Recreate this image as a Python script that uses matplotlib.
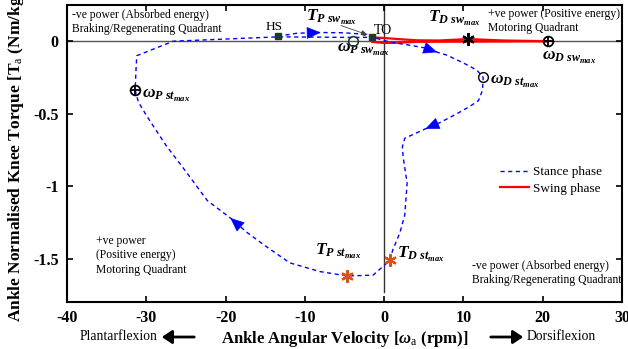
import matplotlib
matplotlib.use('Agg')
import matplotlib.pyplot as plt

plt.rcParams['font.family'] = ['Liberation Serif', 'DejaVu Serif']
plt.rcParams['mathtext.fontset'] = 'custom'
plt.rcParams['mathtext.rm'] = 'Liberation Serif'
plt.rcParams['mathtext.it'] = 'Liberation Serif:italic:bold'
plt.rcParams['mathtext.bf'] = 'Liberation Serif:bold'

# stance phase loop (angular velocity rpm, normalised torque Nm/kg)
stance_w = [-13.4, -11.0, -8.0, -5.0, -3.0, -2.0, 0.8, 3.3, 5.0, 6.7, 7.9, 10.0, 11.7, 12.5,
            12.4, 11.9, 10.8, 9.2, 7.1, 5.2, 4.2, 2.6, 2.3, 2.4, 2.9, 2.6, 2.0, 1.1, 0.7,
            -0.25, -1.4, -4.7, -8.1, -11.9, -14.8, -17.3, -19.4, -22.3, -25.0, -27.5, -29.9,
            -31.0, -31.4, -31.3, -31.2, -26.6, -20.0, -13.4, -8.0, -4.0, -1.5]
stance_T = [0.034, 0.055, 0.060, 0.058, 0.050, 0.035, -0.007, -0.028, -0.045, -0.076, -0.096,
            -0.15, -0.20, -0.25, -0.34, -0.41, -0.45, -0.50, -0.56, -0.605, -0.63, -0.67, -0.73,
            -0.80, -0.98, -1.20, -1.32, -1.44, -1.513, -1.56, -1.615, -1.62, -1.59, -1.53, -1.42,
            -1.32, -1.22, -1.10, -0.90, -0.72, -0.52, -0.42, -0.337, -0.20, -0.10, 0.0, 0.015,
            0.030, 0.028, 0.026, 0.027]
stance_arrows = [2, 9, 19, 36]

# swing phase loop
swing_w = [-1.5, 0.5, 2.5, 4.3, 7.0, 10.6, 15.0, 20.7, 15.0, 10.0, 4.3, 2.0, 0.0, -1.5]
swing_T = [0.027, 0.020, 0.012, 0.006, 0.005, 0.015, 0.005, 0.0, -0.002, -0.003, -0.004,
           -0.010, -0.012, -0.005]

# events
hs = (-13.4, 0.034)
to = (-1.5, 0.027)
w_psw = (-3.9, 0.0)
w_dst = (12.5, -0.25)
w_pst = (-31.4, -0.337)
w_dsw = (20.7, 0.0)
t_dsw = (10.6, 0.015)
t_dst = (0.7, -1.513)
t_pst = (-4.7, -1.62)

fig = plt.figure(figsize=(6.28, 3.49), dpi=100)
ax = fig.add_axes([0.1067, 0.1347, 0.8837, 0.851])

ax.axhline(0, color='#555555', lw=1.0, zorder=1)
ax.plot([0, 0], [-1.73, 0.25], color='#333333', lw=1.0, zorder=1)

ax.plot(swing_w, swing_T, color='red', lw=1.6, label='Swing phase', zorder=2)
ax.plot(stance_w, stance_T, color='blue', ls=(0, (3, 2.5)), lw=1.0, label='Stance phase', zorder=3)

for i in stance_arrows:
    x0, y0 = stance_w[i - 1], stance_T[i - 1]
    x1, y1 = stance_w[i], stance_T[i]
    ax.annotate('', xy=(x1, y1), xytext=(x1 - 0.25 * (x1 - x0), y1 - 0.25 * (y1 - y0)),
                arrowprops=dict(arrowstyle='-|>,head_length=0.7,head_width=0.3', color='blue',
                                lw=0.5, shrinkA=0, shrinkB=0, mutation_scale=13), zorder=4)

green = '#1d3b2a'
ax.plot(*hs, 's', color=green, ms=4, zorder=5)
ax.plot(*to, 's', color=green, ms=5, zorder=5)
ax.plot(*w_psw, 'o', mfc='none', mec=green, ms=7, mew=1.2, zorder=5)
ax.plot(*w_dst, 'o', mfc='none', mec='black', ms=7, mew=1.0, zorder=5)
for p in (w_pst, w_dsw):
    ax.plot(*p, 'o', mfc='none', mec='black', ms=7, mew=1.3, zorder=5)
    ax.plot(*p, '+', color='black', ms=7, mew=1.3, zorder=5)
ax.plot(*t_dsw, marker=(6, 2, 0), color='black', ms=9, mew=1.6, zorder=5)
for p in (t_dst, t_pst):
    ax.plot(*p, marker=(6, 2, 0), color='#D95319', ms=9, mew=1.6, zorder=5)

lab = 12.5
ax.text(-9.8, 0.165, r'$T_{P\ sw_{max}}$', fontsize=lab, va='center')
ax.annotate('', xy=(to[0] - 0.2, to[1] + 0.01), xytext=(-5.8, 0.115),
            arrowprops=dict(arrowstyle='-|>,head_length=0.4,head_width=0.15', color='#444444',
                            lw=0.6))
ax.text(-6.0, -0.06, r'$\omega_{P\ sw_{max}}$', fontsize=lab, va='center')
ax.text(-1.3, 0.075, 'TO', fontsize=10, va='center')
ax.text(-14.9, 0.1, 'HS', fontsize=9.5, va='center')
ax.text(5.5, 0.155, r'$T_{D\ sw_{max}}$', fontsize=lab, va='center')
ax.text(19.9, -0.115, r'$\omega_{D\ sw_{max}}$', fontsize=lab, va='center')
ax.text(13.3, -0.275, r'$\omega_{D\ st_{max}}$', fontsize=lab, va='center')
ax.text(-30.6, -0.375, r'$\omega_{P\ st_{max}}$', fontsize=lab, va='center')
ax.text(-8.7, -1.45, r'$T_{P\ st_{max}}$', fontsize=lab, va='center')
ax.text(1.6, -1.47, r'$T_{D\ st_{max}}$', fontsize=lab, va='center')

q = 8.4
ax.text(-39.4, 0.134, '-ve power (Absorbed energy)\nBraking/Regenerating Quadrant', fontsize=q,
        va='center', linespacing=1.2)
ax.text(13.1, 0.138, '+ve power (Positive energy)\nMotoring Quadrant', fontsize=q,
        va='center', linespacing=1.2)
ax.text(-36.3, -1.479, '+ve power\n(Positive energy)\nMotoring Quadrant', fontsize=q,
        va='center', linespacing=1.25)
ax.text(11.1, -1.602, '-ve power (Absorbed energy)\nBraking/Regenerating Quadrant', fontsize=q,
        va='center', linespacing=1.25)

ax.set_xlim(-40, 30)
ax.set_ylim(-1.8, 0.25)
ax.set_xticks([-40, -30, -20, -10, 0, 10, 20, 30])
ax.set_xticklabels(['-40', '-30', '-20', '-10', '0', '10', '20', '30'])
ax.set_yticks([-1.5, -1, -0.5, 0])
ax.set_yticklabels(['-1.5', '-1', '-0.5', '0'])
ax.tick_params(direction='in', length=4, width=1.2, top=True, right=True, labelsize=11.5, pad=6)
for t in ax.get_xticklabels() + ax.get_yticklabels():
    t.set_fontweight('bold')
for s in ax.spines.values():
    s.set_linewidth(1.5)

ax.set_xlabel(r'Ankle Angular Velocity [$\omega_{\mathrm{a}}$ (rpm)]', fontsize=12,
              fontweight='bold', labelpad=2)
ax.set_ylabel(r'Ankle Normalised Knee Torque [T$_{\mathrm{a}}$ (Nm/kg)]', fontsize=12.5,
              fontweight='bold')
ax.yaxis.set_label_coords(-0.074, 0.5)

leg = ax.legend(handles=ax.get_lines()[3:1:-1], loc='upper left', bbox_to_anchor=(0.77, 0.475),
                frameon=False, fontsize=9.5, handlelength=2.2, borderaxespad=0, labelspacing=0.3,
                handletextpad=0.3)

fig.text(80 / 628, 1 - 337 / 349, 'Plantarflexion', fontsize=9.8, va='center')
fig.text(527 / 628, 1 - 337 / 349, 'Dorsiflexion', fontsize=9.8, va='center')
fig.patches.append(matplotlib.patches.FancyArrowPatch(
    (197 / 628, 1 - 337 / 349), (159 / 628, 1 - 337 / 349), transform=fig.transFigure,
    arrowstyle='-|>,head_length=6,head_width=4', color='black', lw=2))
fig.patches.append(matplotlib.patches.FancyArrowPatch(
    (488 / 628, 1 - 337 / 349), (526 / 628, 1 - 337 / 349), transform=fig.transFigure,
    arrowstyle='-|>,head_length=6,head_width=4', color='black', lw=2))

fig.savefig('out.png', dpi=100)
